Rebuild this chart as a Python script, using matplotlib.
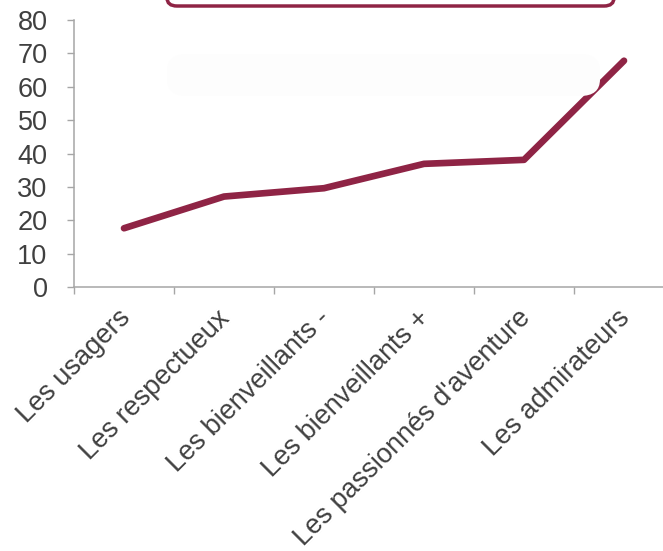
import matplotlib
matplotlib.use("Agg")
import matplotlib.pyplot as plt
from matplotlib.patches import FancyBboxPatch
from matplotlib.transforms import ScaledTranslation
import numpy as np

plt.rcParams['font.family'] = ['Liberation Sans', 'DejaVu Sans']

categories = ["Les usagers", "Les respectueux", "Les bienveillants -",
              "Les bienveillants +", "Les passionnés d'aventure", "Les admirateurs"]
values = [17.6, 27.1, 29.6, 36.9, 38.1, 67.8]
y_ticks = [0, 10, 20, 30, 40, 50, 60, 70, 80]

line_color = "#8f2445"
axis_color = "#a6a6a6"
text_color = "#404040"

fig = plt.figure(figsize=(6.63, 5.51), dpi=100)
ax = fig.add_axes([74 / 663, 264 / 551, 600 / 663, 267 / 551])

x = np.arange(len(categories))
ax.plot(x, values, color=line_color, linewidth=4.8, solid_capstyle="round",
        solid_joinstyle="round")

ax.set_xlim(-0.5, len(categories) - 0.5)
ax.set_ylim(0, 80)
ax.set_yticks(y_ticks)
ax.set_xticks(x)
ax.set_xticks(np.arange(-0.5, len(categories) + 0.5, 1), minor=True)

ax.tick_params(axis="y", length=5, width=1, color=axis_color, labelsize=19.5,
               labelcolor=text_color, pad=14)
ax.tick_params(axis="x", which="major", length=0, labelsize=19.5,
               labelcolor=text_color, pad=8)
ax.tick_params(axis="x", which="minor", length=5, width=1, color=axis_color)

ax.set_xticklabels(categories)
decal = ScaledTranslation(-7 / 100, -7 / 100, fig.dpi_scale_trans)
for lbl in ax.get_xticklabels():
    lbl.set_rotation(45)
    lbl.set_ha("right")
    lbl.set_va("top")
    lbl.set_rotation_mode("anchor")
    lbl.set_transform(lbl.get_transform() + decal)

for side in ["top", "right"]:
    ax.spines[side].set_visible(False)
for side in ["left", "bottom"]:
    ax.spines[side].set_color(axis_color)
    ax.spines[side].set_linewidth(1.1)

# boîte du titre coupée en haut + ombre très légère
fig.patches.append(FancyBboxPatch((167 / 663, 455 / 551), 433 / 663, 42 / 551,
                                  boxstyle="round,pad=0,rounding_size=0.03",
                                  transform=fig.transFigure, facecolor="#fdfdfd",
                                  edgecolor="none", zorder=0))
fig.patches.append(FancyBboxPatch((167 / 663, 545 / 551), 447 / 663, 30 / 551,
                                  boxstyle="round,pad=0,rounding_size=0.015",
                                  transform=fig.transFigure, facecolor="white",
                                  edgecolor=line_color, linewidth=2.5, zorder=3))

fig.savefig("out.png", dpi=100)
